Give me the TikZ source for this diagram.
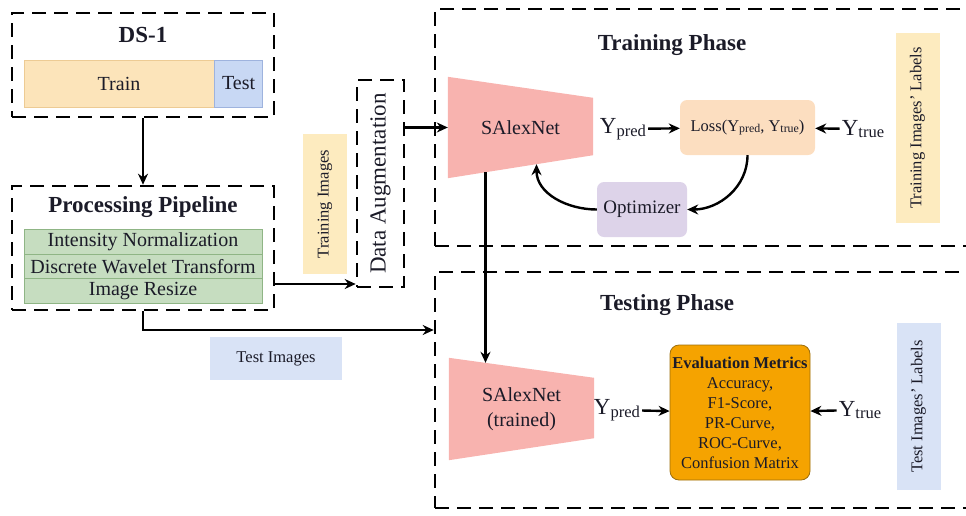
\documentclass[tikz,border=0pt]{standalone}
\usepackage{fontspec}
\setmainfont{Liberation Serif}
\usetikzlibrary{arrows.meta,positioning,backgrounds}
\definecolor{pxdark}{HTML}{1B1B28}
\definecolor{pxtrain}{HTML}{FCE4BA}
\definecolor{pxtrainln}{HTML}{EDCB94}
\definecolor{pxtest}{HTML}{C8D8F4}
\definecolor{pxtestln}{HTML}{9EB3DE}
\definecolor{pxgreen}{HTML}{C6DDC0}
\definecolor{pxgreenln}{HTML}{8FB585}
\definecolor{pxsalmon}{HTML}{F8B3AF}
\definecolor{pxloss}{HTML}{FCDEC0}
\definecolor{pxopt}{HTML}{DDD3E9}
\definecolor{pxyellow}{HTML}{FDEBBF}
\definecolor{pxblue}{HTML}{D9E3F6}
\definecolor{pxeval}{HTML}{F5A300}
\definecolor{pxevalln}{HTML}{9C6E0C}
\newcommand{\yv}[1]{Y\raisebox{-0.25ex}{\scalebox{0.72}{#1}}}
\tikzset{
  phase/.style={draw=black,line width=2.6pt,dash pattern=on 14pt off 8pt,inner sep=0pt},
  ttl/.style={font=\fontsize{23pt}{25pt}\selectfont\bfseries},
  cell/.style={minimum height=47pt,inner sep=0pt,line width=0.6pt,font=\fontsize{20pt}{22pt}\selectfont},
  row/.style={draw=pxgreenln,fill=pxgreen,minimum width=238pt,minimum height=24.5pt,
              inner sep=0pt,line width=0.6pt,font=\fontsize{20pt}{22pt}\selectfont},
  soft/.style={fill=#1,rounded corners=7pt,minimum height=55pt,inner sep=0pt,
               font=\fontsize{19pt}{21pt}\selectfont},
  vlab/.style={fill=#1,minimum width=44pt,inner sep=0pt,font=\fontsize{16.5pt}{18pt}\selectfont},
  net/.style={minimum width=145pt,minimum height=101pt,inner sep=0pt,align=center,
              font=\fontsize{20pt}{25pt}\selectfont},
  yl/.style={font=\fontsize{23pt}{25pt}\selectfont,inner sep=2pt},
  evalbox/.style={draw=pxevalln,fill=pxeval,rounded corners=9pt,minimum width=140pt,
                  minimum height=135pt,align=center,line width=0.8pt,inner sep=2pt,
                  font=\fontsize{16.5pt}{20pt}\selectfont},
  arr/.style={-{Stealth[length=11pt,width=10pt]},line width=2.4pt,black},
}

\begin{document}
\begin{tikzpicture}[x=1pt,y=-1pt,every node/.style={text=pxdark}]
  \useasboundingbox (0,0) rectangle (966,515);
  \clip (0,0) rectangle (966,515);
  \node[phase,minimum width=262pt,minimum height=104pt] (ds) at (143,65) {};
  \node[ttl] (dst) at (143,35) {DS-1};
  \node[cell,fill=pxtrain,draw=pxtrainln,minimum width=190pt] (train) at (119,83.5) {Train};
  \node[cell,fill=pxtest,draw=pxtestln,minimum width=48pt,right=0pt of train] (test) {Test};
  \node[phase,minimum width=262pt,minimum height=124pt] (pp) at (143,248) {};
  \node[ttl] (ppt) at (143,207) {Processing Pipeline};
  \foreach \t [count=\j] in {Intensity Normalization,Discrete Wavelet Transform,Image Resize}
    {\node[row] (r\j) at (143,{217.5+\j*24.5}) {\t};}
  \node[phase,minimum width=47pt,minimum height=207pt,font=\fontsize{23pt}{25pt}\selectfont]
    (da) at (380.5,183.5) {\rotatebox{90}{Data Augmentation}};
  \node[vlab=pxyellow,minimum height=140pt] (trimg) at (325,204) {\rotatebox{90}{Training Images}};
  \node[fill=pxblue,minimum width=132pt,minimum height=43pt,inner sep=0pt,
        font=\fontsize{16.5pt}{18pt}\selectfont] (tsimg) at (276,358.5) {Test Images};
  \node[phase,minimum width=540pt,minimum height=237pt] (trp) at (705,127.5) {};
  \node[ttl] (trpt) at (672,45) {Training Phase};
  \node[net] (sa1) at (520.5,127.5) {SAlexNet};
  \node[yl] (yp1) at (623,129) {\yv{pred}};
  \node[soft=pxloss,minimum width=135pt,font=\fontsize{16.5pt}{18pt}\selectfont]
    (loss) at (747.5,127.5) {Loss(\yv{pred}, \yv{true})};
  \node[yl] (yt1) at (863,129) {\yv{true}};
  \node[soft=pxopt,minimum width=90pt] (opt) at (642,209.5) {Optimizer};
  \node[vlab=pxyellow,minimum height=190pt] (trlab) at (917.5,128) {\rotatebox{90}{Training Images’ Labels}};
  \node[phase,minimum width=540pt,minimum height=236pt] (tsp) at (705,390) {};
  \node[ttl] (tspt) at (667,305) {Testing Phase};
  \node[net,minimum height=102pt] (sa2) at (521.5,409) {SAlexNet\\(trained)};
  \node[yl] (yp2) at (617,410) {\yv{pred}};
  \node[evalbox] (ev) at (740,412.5)
    {\textbf{Evaluation Metrics}\\Accuracy,\\F1-Score,\\PR-Curve,\\ROC-Curve,\\Confusion Matrix};
  \node[yl] (yt2) at (860,410) {\yv{true}};
  \node[vlab=pxblue,minimum height=167pt] (tslab) at (918.5,406.5) {\rotatebox{90}{Test Images’ Labels}};
  \begin{scope}[on background layer]
    \foreach \n/\a/\b in {sa1/21/23,sa2/20/22}
      \fill[pxsalmon] (\n.north west) -- ([yshift=-\a pt]\n.north east)
        -- ([yshift=\b pt]\n.south east) -- (\n.south west) -- cycle;
  \end{scope}
  \coordinate (ppout) at ([yshift=-36pt]pp.east);
  \coordinate (sa1dn) at ([xshift=16pt,yshift=14pt]sa1.south);
  \draw[arr] (ds) -- (pp);
  \draw[arr] (ppout) -- (ppout -| da.west);
  \draw[arr] (da.east |- sa1.west) -- (sa1.west);
  \draw[arr] (pp.south) |- ([yshift=60pt]tsp.west);
  \draw[arr] (yp1) -- (loss);
  \draw[arr] (yt1) -- (loss);
  \draw[arr] (loss.south) to[out=-90,in=0] (opt.east);
  \draw[arr] (opt.west) to[out=180,in=-90] (sa1dn);
  \draw[arr] ([xshift=-35pt,yshift=6pt]sa1.south) -- ([xshift=-36pt,yshift=-5pt]sa2.north);
  \draw[arr] (yp2) -- (ev);
  \draw[arr] (yt2) -- (ev);
\end{tikzpicture}
\end{document}
